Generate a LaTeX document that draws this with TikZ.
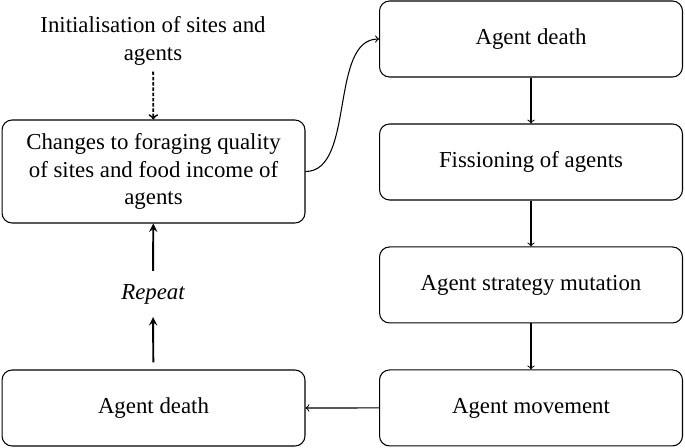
\documentclass[tikz,border=0pt]{standalone}
\usepackage{fontspec}
\setmainfont{Liberation Serif}

\begin{document}
\begin{tikzpicture}[x=0.02cm, y=-0.02cm, node distance=2.46cm, font=\fontsize{13}{15.5}\selectfont, >=to, semithick]
    \tikzstyle{stage} = [rectangle, draw, semithick, rounded corners=0.2cm, minimum width=6.06cm, minimum height=1.52cm, align=center]
    \tikzstyle{loop} = [->, line width=1.1pt, >=stealth]
    \useasboundingbox (0,0) rectangle (685,447);

    \node [stage] (death1) at (531,39) {Agent death};
    \node [stage, below of=death1] (fission) {Fissioning of agents};
    \node [stage, below of=fission] (mutation) {Agent strategy mutation};
    \node [stage, below of=mutation] (movement) {Agent movement};

    \node [stage, minimum height=2.06cm] (changes) at (153.5,171.5) {Changes to foraging quality\\of sites and food income of\\agents};
    \node [stage] (death2) at (153.5,408) {Agent death};
    \node [align=center] (init) at (153,41) {Initialisation of sites and\\agents};
    \node [inner sep=0pt, minimum height=0.9cm, font=\fontsize{13}{15.5}\selectfont\itshape] (repeat) at (153,294) {Repeat};

    % main cycle
    \draw [->, dash pattern=on 2pt off 1pt, line width=1pt] (init) -- (changes);
    \draw [->] (changes.east) .. controls +(50,0) and +(-50,0) .. (death1.west);
    \draw [->] (death1) -- (fission);
    \draw [->] (fission) -- (mutation);
    \draw [->] (mutation) -- (movement);
    \draw [->] (movement) -- (death2);
    \draw [loop, shorten <=0.14cm] (death2) -- (repeat);
    \draw [loop] (repeat) -- (changes);
\end{tikzpicture}
\end{document}
